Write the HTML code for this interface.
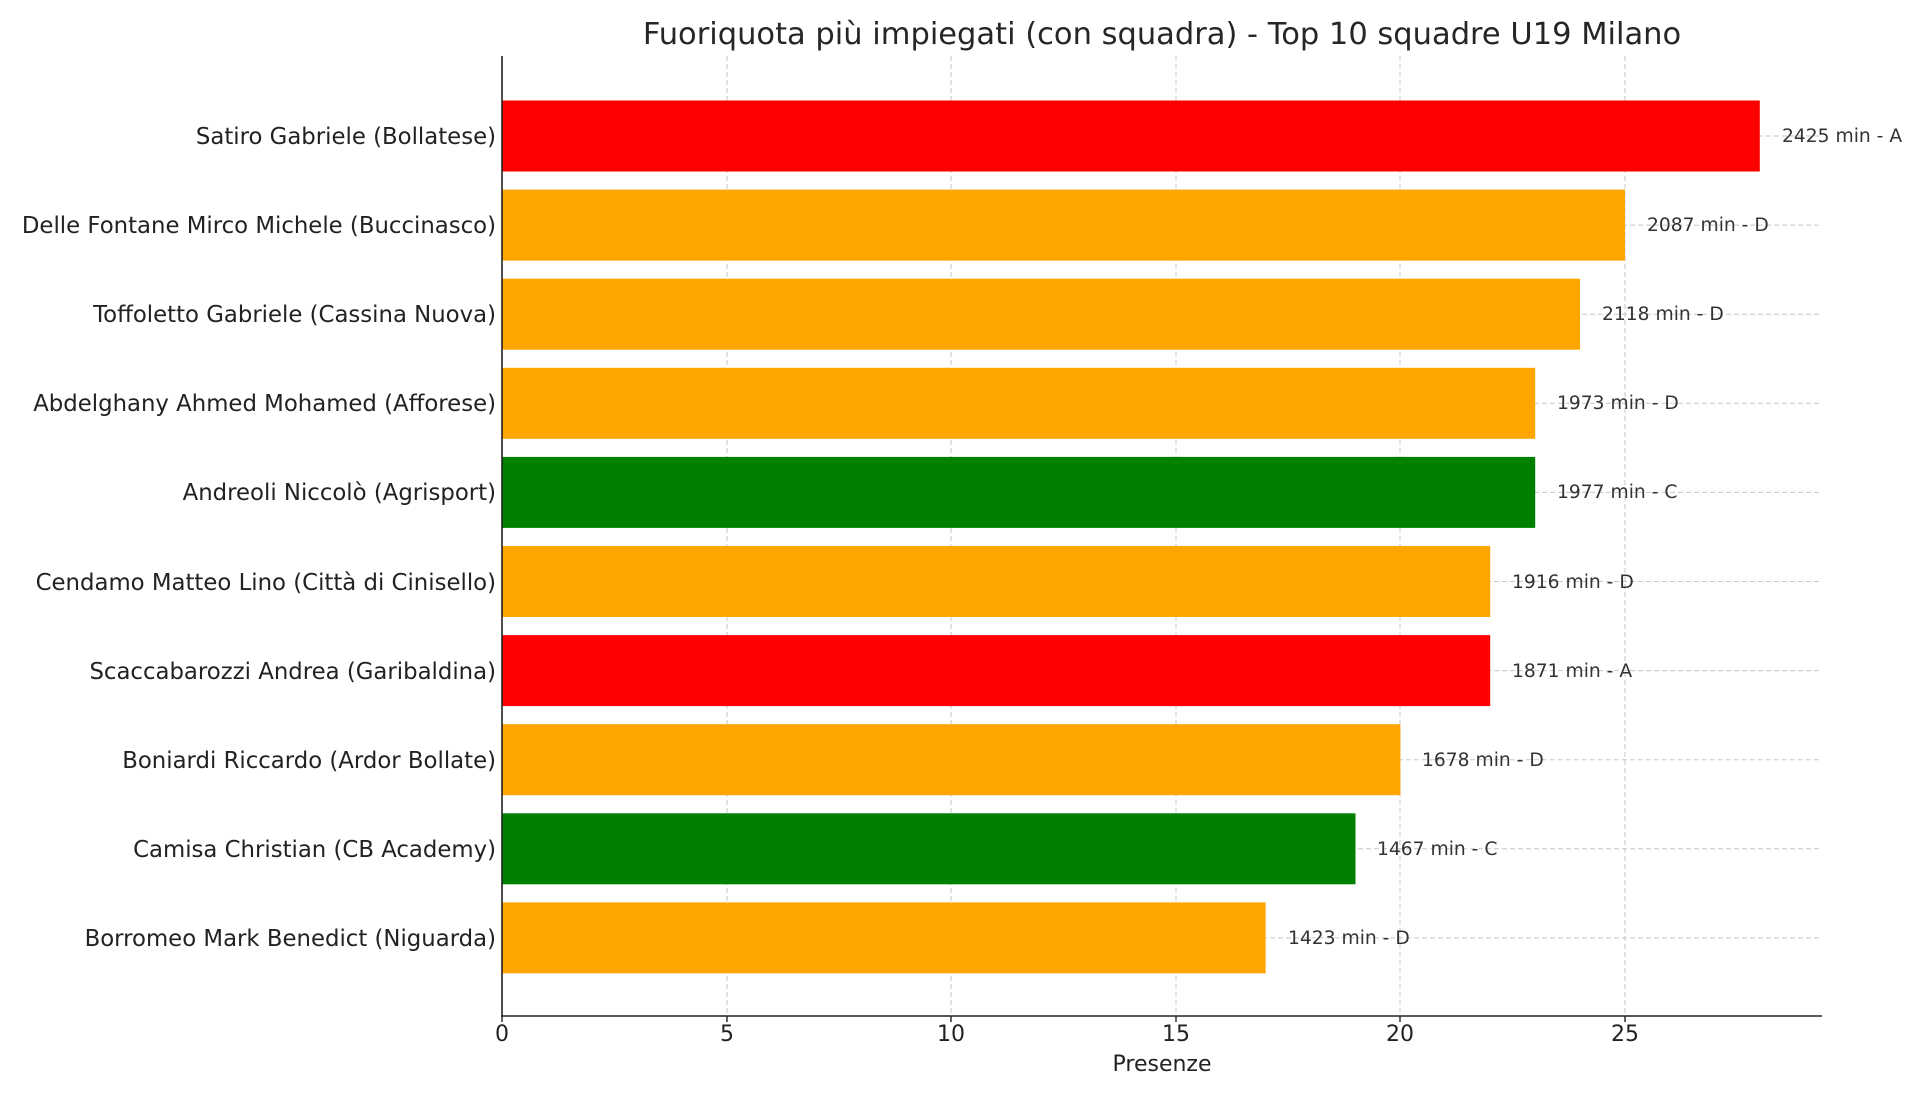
<!DOCTYPE html>
<html><head><meta charset="utf-8"><style>body{margin:0;background:#fff}</style></head>
<body>
<svg width="1920" height="1097" xmlns="http://www.w3.org/2000/svg" font-family="'DejaVu Sans','Liberation Sans',sans-serif">
<rect width="1920" height="1097" fill="#fff"/>
<text x="1162" y="44" font-size="30.5" text-anchor="middle" fill="#262626">Fuoriquota più impiegati (con squadra) - Top 10 squadre U19 Milano</text>
<g stroke="#b0b0b0" stroke-width="1" stroke-dasharray="5,3" opacity="0.7">
<line x1="727" y1="56" x2="727" y2="1016"/><line x1="951" y1="56" x2="951" y2="1016"/><line x1="1176" y1="56" x2="1176" y2="1016"/><line x1="1400" y1="56" x2="1400" y2="1016"/><line x1="1625" y1="56" x2="1625" y2="1016"/>
<line x1="502" y1="136" x2="1821" y2="136"/><line x1="502" y1="225.1" x2="1821" y2="225.1"/><line x1="502" y1="314.2" x2="1821" y2="314.2"/><line x1="502" y1="403.3" x2="1821" y2="403.3"/><line x1="502" y1="492.4" x2="1821" y2="492.4"/><line x1="502" y1="581.5" x2="1821" y2="581.5"/><line x1="502" y1="670.6" x2="1821" y2="670.6"/><line x1="502" y1="759.7" x2="1821" y2="759.7"/><line x1="502" y1="848.8" x2="1821" y2="848.8"/><line x1="502" y1="937.9" x2="1821" y2="937.9"/>
</g>
<g>
<rect x="502" y="100.5" width="1257.8" height="71" fill="#ff0000"/>
<rect x="502" y="189.6" width="1123" height="71" fill="#ffa500"/>
<rect x="502" y="278.7" width="1078.1" height="71" fill="#ffa500"/>
<rect x="502" y="367.8" width="1033.2" height="71" fill="#ffa500"/>
<rect x="502" y="456.9" width="1033.2" height="71" fill="#008000"/>
<rect x="502" y="546" width="988.2" height="71" fill="#ffa500"/>
<rect x="502" y="635.1" width="988.2" height="71" fill="#ff0000"/>
<rect x="502" y="724.2" width="898.4" height="71" fill="#ffa500"/>
<rect x="502" y="813.3" width="853.5" height="71" fill="#008000"/>
<rect x="502" y="902.4" width="763.6" height="71" fill="#ffa500"/>
</g>
<g font-size="18.7" fill="#333">
<text x="1782" y="142">2425 min - A</text>
<text x="1647" y="231">2087 min - D</text>
<text x="1602" y="320">2118 min - D</text>
<text x="1557" y="409">1973 min - D</text>
<text x="1557" y="498">1977 min - C</text>
<text x="1512" y="588">1916 min - D</text>
<text x="1512" y="677">1871 min - A</text>
<text x="1422" y="766">1678 min - D</text>
<text x="1377" y="855">1467 min - C</text>
<text x="1288" y="944">1423 min - D</text>
</g>
<g font-size="22.8" fill="#222" text-anchor="end">
<text x="496" y="144">Satiro Gabriele (Bollatese)</text>
<text x="496" y="233">Delle Fontane Mirco Michele (Buccinasco)</text>
<text x="496" y="322">Toffoletto Gabriele (Cassina Nuova)</text>
<text x="496" y="411">Abdelghany Ahmed Mohamed (Afforese)</text>
<text x="496" y="500">Andreoli Niccolò (Agrisport)</text>
<text x="496" y="590">Cendamo Matteo Lino (Città di Cinisello)</text>
<text x="496" y="679">Scaccabarozzi Andrea (Garibaldina)</text>
<text x="496" y="768">Boniardi Riccardo (Ardor Bollate)</text>
<text x="496" y="857">Camisa Christian (CB Academy)</text>
<text x="496" y="946">Borromeo Mark Benedict (Niguarda)</text>
</g>
<line x1="502" y1="56" x2="502" y2="1017" stroke="#222" stroke-width="1.6"/>
<line x1="501" y1="1016" x2="1822" y2="1016" stroke="#222" stroke-width="1.6"/>
<g font-size="22" fill="#222" text-anchor="middle">
<text x="502" y="1041">0</text><text x="727" y="1041">5</text><text x="951" y="1041">10</text><text x="1176" y="1041">15</text><text x="1400" y="1041">20</text><text x="1625" y="1041">25</text>
<text x="1162" y="1071">Presenze</text>
</g>
<g stroke="#222" stroke-width="1.4"><line x1="727" y1="1016" x2="727" y2="1022"/><line x1="951" y1="1016" x2="951" y2="1022"/><line x1="1176" y1="1016" x2="1176" y2="1022"/><line x1="1400" y1="1016" x2="1400" y2="1022"/><line x1="1625" y1="1016" x2="1625" y2="1022"/><line x1="502" y1="1016" x2="502" y2="1022"/></g>
</svg>
</body></html>
